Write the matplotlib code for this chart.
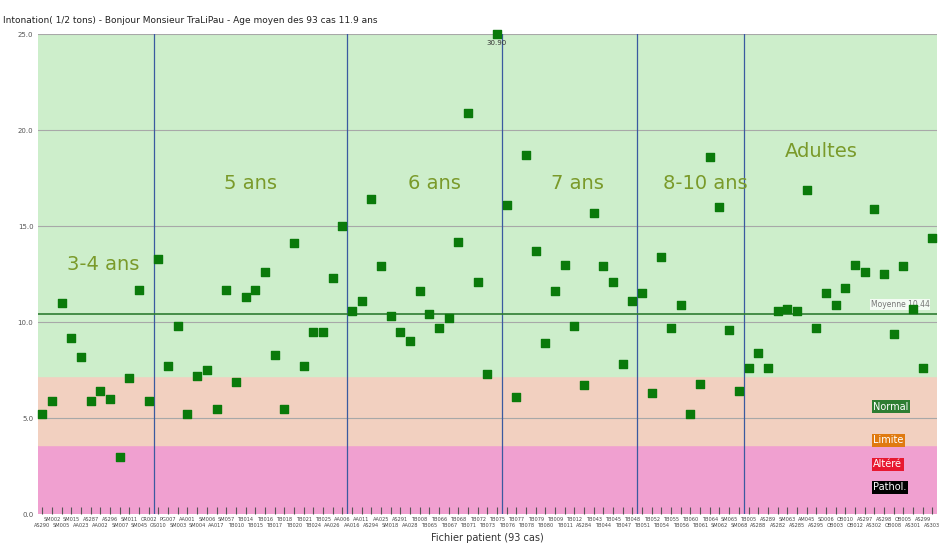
import matplotlib
matplotlib.use("Agg")
import matplotlib.pyplot as plt

values = [5.2,5.9,11.0,9.2,8.2,5.9,6.4,6.0,3.0,7.1,
          11.7,5.9,13.3,7.7,9.8,5.2,7.2,7.5,5.5,11.7,
          6.9,11.3,11.7,12.6,8.3,5.5,14.1,7.7,9.5,9.5,
          12.3,15.0,10.6,11.1,16.4,12.9,10.3,9.5,9.0,11.6,
          10.4,9.7,10.2,14.2,20.9,12.1,7.3,30.9,16.1,6.1,
          18.7,13.7,8.9,11.6,13.0,9.8,6.7,15.7,12.9,12.1,
          7.8,11.1,11.5,6.3,13.4,9.7,10.9,5.2,6.8,18.6,
          16.0,9.6,6.4,7.6,8.4,7.6,10.6,10.7,10.6,16.9,
          9.7,11.5,10.9,11.8,13.0,12.6,15.9,12.5,9.4,12.9,
          10.7,7.6,14.4]
labels = ["AS290","SM002","SM005","SM015","AA023","AS287","AA002","AS296","SM007","SM011",
          "SM045","CR002","GS010","PG007","SM003","AA001","SM004","SM006","AA017","SM057",
          "TB010","TB014","TB015","TB016","TB017","TB018","TB020","TB021","TB024","TB025",
          "AA026","AA006","AA016","AA011","AS294","AA025","SM018","AS291","AA028","TB008",
          "TB065","TB066","TB067","TB068","TB071","TB072","TB073","TB075","TB076","TB077",
          "TB078","TB079","TB080","TB009","TB011","TB012","AS284","TB043","TB044","TB045",
          "TB047","TB048","TB051","TB052","TB054","TB055","TB056","TB060","TB061","TB064",
          "SM062","SM065","SM068","TB005","AS288","AS289","AS282","SM063","AS285","AM045",
          "AS295","SD006","OB003","OB010","OB012","AS297","AS302","AS298","OB008","OB005",
          "AS301","AS299","AS303"]
groups = [("3-4 ans",6.3,13.0),("5 ans",21.5,17.2),("6 ans",40.5,17.2),
          ("7 ans",55.3,17.2),("8-10 ans",68.5,17.2),("Adultes",80.5,18.9)]
separators = [11.5,31.5,47.5,61.5,72.5]
mean = 10.44
N = len(values)

fig = plt.figure(figsize=(9.39,5.44), dpi=100)
fig.patch.set_facecolor("white")
ax = fig.add_axes([0.040,0.055,0.958,0.882])
ax.set_xlim(-0.5, N-0.5)
ax.set_ylim(0,25)
ax.axhspan(0,3.6,color="#f0a0d0",zorder=0)
ax.axhspan(3.6,7.2,color="#f2d0c0",zorder=0)
ax.axhspan(7.2,25,color="#cdeecb",zorder=0)
for g in [5,10,15,20,25]:
    ax.axhline(g,color="#a8a8a8",lw=0.8,zorder=1)
for s in separators:
    ax.axvline(s,color="#3a5aa0",lw=0.9,zorder=2)
ax.axhline(mean,color="#2e7d32",lw=1.2,zorder=3)
ax.text(N-1.3,mean+0.25,"Moyenne %.2f"%mean,fontsize=5.5,color="#777777",ha="right",va="bottom",
        bbox=dict(facecolor="white",edgecolor="none",pad=0.5,alpha=0.8),zorder=4)
xs = list(range(N))
ys = [min(v,25) for v in values]
ax.scatter(xs,ys,marker="s",s=38,color="#0a7a0a",zorder=5,clip_on=False)
for x,v in zip(xs,values):
    if v>25:
        ax.text(x,24.7,"%.2f"%v,fontsize=5,ha="center",va="top",color="#333333",zorder=6)
for name,x,y in groups:
    ax.text(x,y,name,fontsize=14,color="#7a9a2a",ha="center",va="center",zorder=4)
legend = [("Normal",5.6,"#2e7d32"),("Limite",3.85,"#e07a10"),("Altéré",2.6,"#e81830"),("Pathol.",1.4,"black")]
for t,y,c in legend:
    ax.text(85.9,y,t,fontsize=7,color="white",ha="left",va="center",
            bbox=dict(facecolor=c,edgecolor="none",pad=1),zorder=6)
ax.set_yticks([0,5,10,15,20,25])
ax.set_yticklabels(["0.0","5.0","10.0","15.0","20.0","25.0"],fontsize=5,color="#555555")
ax.set_xticks(xs)
ax.set_xticklabels(["\n"+l if i%2==0 else l for i,l in enumerate(labels[:N])],fontsize=3.6,color="#444444",linespacing=1.3)
ax.tick_params(axis="x",direction="in",length=5,pad=2,color="#555555")
ax.tick_params(axis="y",length=0,pad=3)
for sp in ax.spines.values():
    sp.set_visible(False)
ax.set_xlabel("Fichier patient (93 cas)",fontsize=7,color="#333333",labelpad=1)
ax.xaxis.set_label_coords(0.5,-0.04)
fig.text(0.003,0.962,"Intonation( 1/2 tons) - Bonjour Monsieur TraLiPau - Age moyen des 93 cas 11.9 ans",
         fontsize=6.5,color="#222222",ha="left",va="center")
fig.savefig("out.png",dpi=100)
